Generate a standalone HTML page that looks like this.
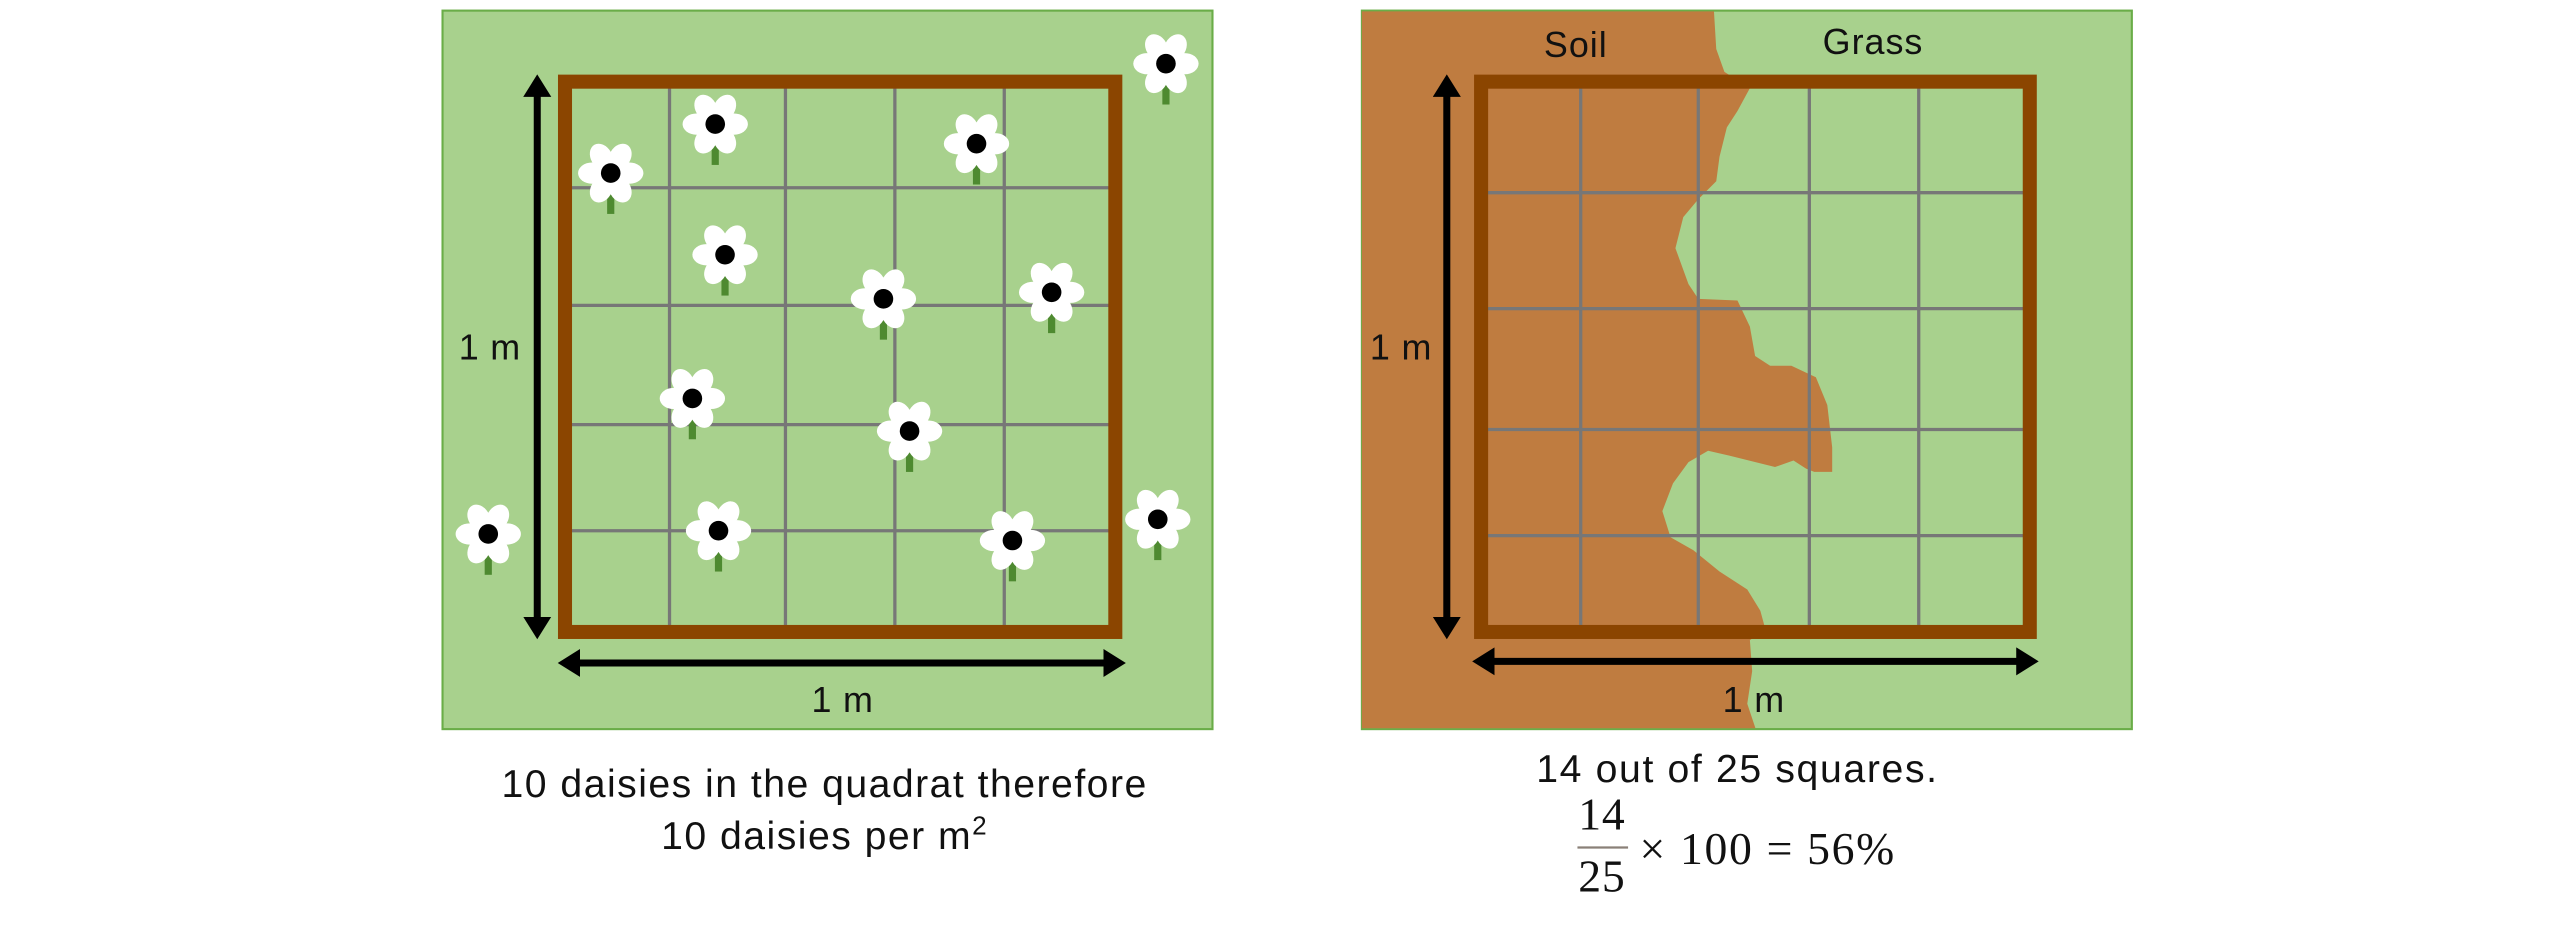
<!DOCTYPE html>
<html><head><meta charset="utf-8"><style>
html,body{margin:0;padding:0;background:#fff;}
svg{display:block;}
text{font-family:"Liberation Sans",sans-serif;fill:#111;}
.m{font-family:"Liberation Serif",serif;}
</style></head><body>
<svg width="2560" height="949" viewBox="0 0 1567.7 581.15" xmlns="http://www.w3.org/2000/svg">
<defs>
<g id="fl">
<rect x="-2.2" y="0" width="4.4" height="25" fill="#4e8a30"/>
<g fill="#fff">
<ellipse cx="11.5" cy="0" rx="8.5" ry="6.5"/>
<ellipse cx="11.5" cy="0" rx="8.5" ry="6.5" transform="rotate(60)"/>
<ellipse cx="11.5" cy="0" rx="8.5" ry="6.5" transform="rotate(120)"/>
<ellipse cx="11.5" cy="0" rx="8.5" ry="6.5" transform="rotate(180)"/>
<ellipse cx="11.5" cy="0" rx="8.5" ry="6.5" transform="rotate(240)"/>
<ellipse cx="11.5" cy="0" rx="8.5" ry="6.5" transform="rotate(300)"/>
</g>
<circle r="6" fill="#000"/>
</g>
<marker id="ah" markerWidth="4" markerHeight="4" refX="1" refY="2" orient="auto-start-reverse" markerUnits="strokeWidth"><path d="M0,0 L3.2,2 L0,4 Z" fill="#000"/></marker>
</defs>

<!-- LEFT PANEL -->
<rect x="271" y="6.5" width="471.5" height="440" fill="#a8d18d" stroke="#6aad48" stroke-width="1.3"/>
<g stroke="#777" stroke-width="2">
<line x1="410" y1="52" x2="410" y2="384"/><line x1="481" y1="52" x2="481" y2="384"/>
<line x1="548" y1="52" x2="548" y2="384"/><line x1="615" y1="52" x2="615" y2="384"/>
<line x1="346" y1="115" x2="683" y2="115"/><line x1="346" y1="187" x2="683" y2="187"/>
<line x1="346" y1="260" x2="683" y2="260"/><line x1="346" y1="325" x2="683" y2="325"/>
</g>
<rect x="346" y="50" width="337" height="337" fill="none" stroke="#8b4500" stroke-width="8.6"/>
<g>
<use href="#fl" x="714" y="39"/><use href="#fl" x="438" y="76"/><use href="#fl" x="374" y="106"/>
<use href="#fl" x="598" y="88"/><use href="#fl" x="444" y="156"/><use href="#fl" x="541" y="183"/>
<use href="#fl" x="644" y="179"/><use href="#fl" x="424" y="244"/><use href="#fl" x="557" y="264"/>
<use href="#fl" x="299" y="327"/><use href="#fl" x="440" y="325"/><use href="#fl" x="620" y="331"/>
<use href="#fl" x="709" y="318"/>
</g>
<line x1="329" y1="55" x2="329" y2="382" stroke="#000" stroke-width="4.3" marker-start="url(#ah)" marker-end="url(#ah)"/>
<line x1="351" y1="406" x2="680" y2="406" stroke="#000" stroke-width="4.3" marker-start="url(#ah)" marker-end="url(#ah)"/>
<text x="300" y="220" font-size="22" text-anchor="middle" letter-spacing="0.5">1 m</text>
<text x="516" y="436" font-size="22" text-anchor="middle" letter-spacing="0.5">1 m</text>
<text x="505" y="488" font-size="24" text-anchor="middle" letter-spacing="0.9">10 daisies in the quadrat therefore</text>
<text x="505" y="520" font-size="24" text-anchor="middle" letter-spacing="0.9">10 daisies per m<tspan font-size="16" dy="-9">2</tspan></text>

<!-- RIGHT PANEL -->
<rect x="834" y="6.5" width="471.5" height="440" fill="#a8d18d" stroke="#6aad48" stroke-width="1.3"/>
<path d="M834,7 L1049.6,7 L1051,30 L1056,44 L1071.6,54 L1064,68 L1057.5,78 L1053,96 L1051,111 L1040,122 L1030.8,133 L1026,152 L1034,174 L1040,183 L1064,184 L1071.6,200 L1074.8,218 L1084,224 L1097,224 L1112,231 L1119,248 L1122,274 L1122,289 L1111,289 L1106,287 L1098.3,282 L1087,286 L1059,279 L1046,276 L1034,283 L1024.5,296 L1018,313 L1023,329 L1037,337 L1053,350 L1070,361 L1078,374 L1081,385 L1071.6,392 L1073,411 L1070,431 L1075,446 L834,446 Z" fill="#bf7c40"/>
<g stroke="#777" stroke-width="2">
<line x1="968" y1="52" x2="968" y2="384"/><line x1="1040" y1="52" x2="1040" y2="384"/>
<line x1="1108" y1="52" x2="1108" y2="384"/><line x1="1175" y1="52" x2="1175" y2="384"/>
<line x1="907" y1="118" x2="1242" y2="118"/><line x1="907" y1="189" x2="1242" y2="189"/>
<line x1="907" y1="263" x2="1242" y2="263"/><line x1="907" y1="328" x2="1242" y2="328"/>
</g>
<rect x="907" y="50" width="336" height="337" fill="none" stroke="#8b4500" stroke-width="8.6"/>
<line x1="886" y1="55" x2="886" y2="382" stroke="#000" stroke-width="4.3" marker-start="url(#ah)" marker-end="url(#ah)"/>
<line x1="911" y1="405" x2="1239" y2="405" stroke="#000" stroke-width="4.3" marker-start="url(#ah)" marker-end="url(#ah)"/>
<text x="965" y="35" font-size="22" text-anchor="middle" letter-spacing="0.6">Soil</text>
<text x="1147" y="33" font-size="22" text-anchor="middle" letter-spacing="0.6">Grass</text>
<text x="858" y="220" font-size="22" text-anchor="middle" letter-spacing="0.5">1 m</text>
<text x="1074" y="436" font-size="22" text-anchor="middle" letter-spacing="0.5">1 m</text>
<text x="1064" y="479" font-size="24" text-anchor="middle" letter-spacing="1">14 out of 25 squares.</text>
<text class="m" x="981" y="508" font-size="28" text-anchor="middle" letter-spacing="0.5">14</text>
<line x1="966" y1="519" x2="997" y2="519" stroke="#8a8078" stroke-width="1.4"/>
<text class="m" x="981" y="546" font-size="28" text-anchor="middle" letter-spacing="0.5">25</text>
<text class="m" x="1004" y="529" font-size="28" textLength="156" lengthAdjust="spacing">× 100 = 56%</text>
</svg>
</body></html>
